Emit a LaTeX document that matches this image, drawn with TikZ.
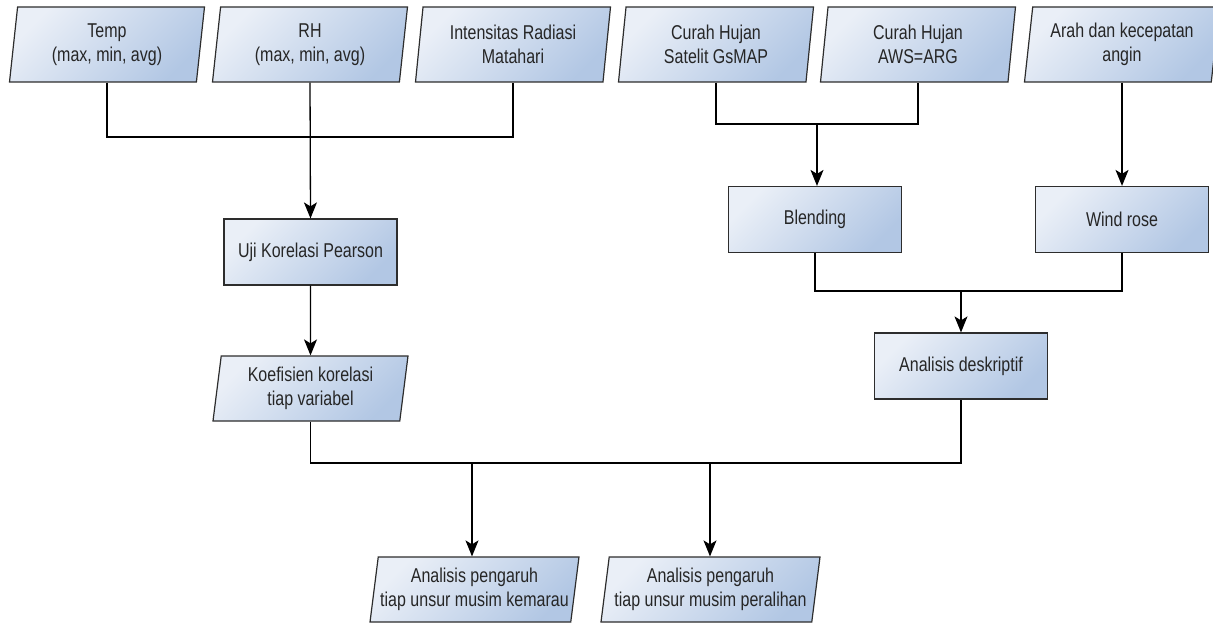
\documentclass[tikz,border=0pt]{standalone}
\usepackage{fontspec}
\setmainfont[FakeStretch=0.8]{Liberation Sans}
\usetikzlibrary{arrows.meta, positioning, shapes.geometric}
\definecolor{boxlight}{RGB}{234,239,247}
\definecolor{boxdark}{RGB}{178,199,228}
\definecolor{boxline}{RGB}{45,45,45}

\begin{document}
\begin{tikzpicture}[
  x=1pt, y=1pt,
  font=\fontsize{20}{24}\selectfont,
  pbox/.style={rectangle, draw=boxline, line width=1.2pt,
               top color=boxlight, bottom color=boxdark, shading angle=45,
               minimum width=173pt, minimum height=66pt, align=center,
               text=black!85, inner sep=2pt},
  dbox/.style={trapezium, trapezium left angle=80, trapezium right angle=100,
               trapezium stretches body, draw=boxline, line width=1.2pt,
               top color=boxlight, bottom color=boxdark, shading angle=45,
               minimum width=#1, minimum height=75pt, align=center,
               text=black!85, inner sep=2pt},
  line/.style={line width=1.3pt, black},
  arr/.style={-{Stealth[length=16pt, width=13pt, inset=4pt]}, line width=1.3pt, black}
]
\useasboundingbox (0,0) rectangle (1213,-623);
\node[dbox=195pt] (temp)  at (107,-44.5)  {Temp\\(max, min, avg)};
\node[dbox=195pt] (rh)    at (310,-44.5)  {RH\\(max, min, avg)};
\node[dbox=195pt] (rad)   at (513,-44.5)  {Intensitas Radiasi\\Matahari};
\node[dbox=195pt] (gsmap) at (716,-44.5)  {Curah Hujan\\Satelit GsMAP};
\node[dbox=195pt] (aws)   at (918,-44.5)  {Curah Hujan\\AWS=ARG};
\node[dbox=195pt] (angin) at (1122,-44.5) {Arah dan kecepatan\\angin};
\node[pbox] (uji)   at (310.5,-252) {Uji Korelasi Pearson};
\node[dbox=195pt, minimum height=65pt] (koef) at (310.5,-388.5) {Koefisien korelasi\\tiap variabel};
\node[pbox] (blend) at (815,-219.5)  {Blending};
\node[pbox] (wind)  at (1122,-219.5) {Wind rose};
\node[pbox] (desk)  at (961,-366)    {Analisis deskriptif};
\node[dbox=203pt, minimum height=65pt] (kemarau)   at (474.5,-589.5) {Analisis pengaruh\\tiap unsur musim kemarau};
\node[dbox=219pt, minimum height=65pt] (peralihan) at (710.5,-589.5) {Analisis pengaruh\\tiap unsur musim peralihan};
\coordinate (j1) at (310,-137);
\coordinate (j2) at (817,-124);
\coordinate (j3) at (961,-291);
\coordinate (j4) at (472,-463);
\coordinate (j5) at (710,-463);
\draw[line] (temp.south) |- (j1) -| (rad.south);
\draw[arr]  (rh.south) -- (uji.north);
\draw[arr]  (uji.south) -- (koef.north);
\draw[line] (gsmap.south) |- (j2) -| (aws.south);
\draw[arr]  (j2) -- (j2 |- blend.north);
\draw[arr]  (angin.south) -- (angin.south |- wind.north);
\draw[line] (blend.south) |- (j3) -| (wind.south);
\draw[arr]  (j3) -- (desk.north);
\draw[line] (koef.south) |- (j4) -- (j5) -| (desk.south);
\draw[arr]  (j4) -- (j4 |- kemarau.north);
\draw[arr]  (j5) -- (j5 |- peralihan.north);
\end{tikzpicture}
\end{document}
